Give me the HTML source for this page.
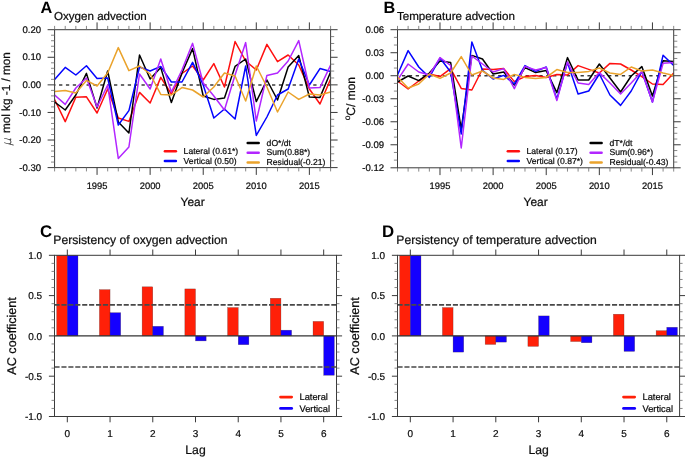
<!DOCTYPE html>
<html lang="en">
<head>
<meta charset="utf-8">
<title>Oxygen and temperature advection</title>
<style>
html,body{margin:0;padding:0;background:#fff;}
text{stroke:#0c0c0c;stroke-width:0.22px;paint-order:stroke fill;}
body{width:685px;height:459px;overflow:hidden;}
svg{display:block;}
</style>
</head>
<body>
<svg width="685" height="459" viewBox="0 0 685 459" font-family="'Liberation Sans', sans-serif" text-rendering="geometricPrecision">
<rect x="0" y="0" width="685" height="459" fill="#ffffff"/>
<clipPath id="clipA"><rect x="54.6" y="29.7" width="276" height="137.9"/></clipPath>
<g clip-path="url(#clipA)">
<line x1="54.6" y1="85" x2="330.6" y2="85" stroke="#3c3c3c" stroke-width="1.6" stroke-dasharray="3.3 3.57" stroke-dashoffset="2.42"/>
<polyline points="54.6,99.6 65.22,121.6 75.83,97.2 86.45,96.8 97.06,113 107.68,89 118.29,118 128.91,121.4 139.52,92.4 150.14,103 160.75,77.4 171.37,94 181.98,73.5 192.6,66 203.22,80 213.83,63.6 224.45,87 235.06,41.6 245.68,61 256.29,70 266.91,44.4 277.52,61.6 288.14,55 298.75,65 309.37,89 319.98,104 330.6,79" fill="none" stroke="#ff1010" stroke-width="1.5" stroke-linejoin="round"/>
<polyline points="54.6,102 65.22,110 75.83,95 86.45,73.4 97.06,108 107.68,71 118.29,122 128.91,133 139.52,55 150.14,79 160.75,67.6 171.37,102.6 181.98,73 192.6,48.6 203.22,96 213.83,99.4 224.45,98 235.06,66.4 245.68,59 256.29,101.6 266.91,80 277.52,100 288.14,67 298.75,55.6 309.37,97 319.98,97.4 330.6,72" fill="none" stroke="#000000" stroke-width="1.5" stroke-linejoin="round"/>
<polyline points="54.6,79.4 65.22,67.4 75.83,75 86.45,65.8 97.06,78.4 107.68,78 118.29,125 128.91,110.6 139.52,67 150.14,71 160.75,66.4 171.37,82 181.98,82 192.6,62.4 203.22,85 213.83,118 224.45,109 235.06,119 245.68,66 256.29,135.4 266.91,117 277.52,95 288.14,89 298.75,59 309.37,85 319.98,68.6 330.6,71.4" fill="none" stroke="#0404ff" stroke-width="1.5" stroke-linejoin="round"/>
<polyline points="54.6,95 65.22,104.4 75.83,88 86.45,78 97.06,107 107.68,85 118.29,158.4 128.91,147 139.52,74 150.14,89 160.75,59 171.37,92 181.98,70 192.6,43.4 203.22,83 213.83,96 224.45,110 235.06,75 245.68,42.6 256.29,121 266.91,75.4 277.52,73 288.14,61 298.75,40.6 309.37,88 319.98,87.6 330.6,65" fill="none" stroke="#b226ff" stroke-width="1.5" stroke-linejoin="round"/>
<polyline points="54.6,91.4 65.22,90.4 75.83,93 86.45,80.4 97.06,86 107.68,73 118.29,47.6 128.91,70.6 139.52,66 150.14,74 160.75,94.4 171.37,95 181.98,87.6 192.6,90 203.22,97 213.83,87 224.45,73 235.06,76 245.68,101 256.29,66 266.91,87 277.52,112 288.14,92 298.75,99.4 309.37,94 319.98,95 330.6,92" fill="none" stroke="#eaa32c" stroke-width="1.5" stroke-linejoin="round"/>
</g>
<rect x="54.6" y="29.7" width="276" height="137.9" fill="none" stroke="#3a3a3a" stroke-width="1"/>
<line x1="47.6" y1="29.7" x2="54.6" y2="29.7" stroke="#3a3a3a" stroke-width="1.0" />
<line x1="330.6" y1="29.7" x2="337.6" y2="29.7" stroke="#3a3a3a" stroke-width="1.0" />
<text x="41.2" y="32.9" font-size="9.6" text-anchor="end" font-weight="normal" fill="#0c0c0c" >0.20</text>
<line x1="51" y1="35.22" x2="54.6" y2="35.22" stroke="#6a6a6a" stroke-width="0.8" />
<line x1="51" y1="40.73" x2="54.6" y2="40.73" stroke="#6a6a6a" stroke-width="0.8" />
<line x1="51" y1="46.25" x2="54.6" y2="46.25" stroke="#6a6a6a" stroke-width="0.8" />
<line x1="51" y1="51.76" x2="54.6" y2="51.76" stroke="#6a6a6a" stroke-width="0.8" />
<line x1="330.6" y1="36.59" x2="334.2" y2="36.59" stroke="#6a6a6a" stroke-width="0.8" />
<line x1="330.6" y1="43.49" x2="334.2" y2="43.49" stroke="#6a6a6a" stroke-width="0.8" />
<line x1="330.6" y1="50.39" x2="334.2" y2="50.39" stroke="#6a6a6a" stroke-width="0.8" />
<line x1="47.6" y1="57.28" x2="54.6" y2="57.28" stroke="#3a3a3a" stroke-width="1.0" />
<line x1="330.6" y1="57.28" x2="337.6" y2="57.28" stroke="#3a3a3a" stroke-width="1.0" />
<text x="41.2" y="60.48" font-size="9.6" text-anchor="end" font-weight="normal" fill="#0c0c0c" >0.10</text>
<line x1="51" y1="62.8" x2="54.6" y2="62.8" stroke="#6a6a6a" stroke-width="0.8" />
<line x1="51" y1="68.31" x2="54.6" y2="68.31" stroke="#6a6a6a" stroke-width="0.8" />
<line x1="51" y1="73.83" x2="54.6" y2="73.83" stroke="#6a6a6a" stroke-width="0.8" />
<line x1="51" y1="79.34" x2="54.6" y2="79.34" stroke="#6a6a6a" stroke-width="0.8" />
<line x1="330.6" y1="64.17" x2="334.2" y2="64.17" stroke="#6a6a6a" stroke-width="0.8" />
<line x1="330.6" y1="71.07" x2="334.2" y2="71.07" stroke="#6a6a6a" stroke-width="0.8" />
<line x1="330.6" y1="77.97" x2="334.2" y2="77.97" stroke="#6a6a6a" stroke-width="0.8" />
<line x1="47.6" y1="84.86" x2="54.6" y2="84.86" stroke="#3a3a3a" stroke-width="1.0" />
<line x1="330.6" y1="84.86" x2="337.6" y2="84.86" stroke="#3a3a3a" stroke-width="1.0" />
<text x="41.2" y="88.06" font-size="9.6" text-anchor="end" font-weight="normal" fill="#0c0c0c" >0.00</text>
<line x1="51" y1="90.38" x2="54.6" y2="90.38" stroke="#6a6a6a" stroke-width="0.8" />
<line x1="51" y1="95.89" x2="54.6" y2="95.89" stroke="#6a6a6a" stroke-width="0.8" />
<line x1="51" y1="101.41" x2="54.6" y2="101.41" stroke="#6a6a6a" stroke-width="0.8" />
<line x1="51" y1="106.92" x2="54.6" y2="106.92" stroke="#6a6a6a" stroke-width="0.8" />
<line x1="330.6" y1="91.75" x2="334.2" y2="91.75" stroke="#6a6a6a" stroke-width="0.8" />
<line x1="330.6" y1="98.65" x2="334.2" y2="98.65" stroke="#6a6a6a" stroke-width="0.8" />
<line x1="330.6" y1="105.55" x2="334.2" y2="105.55" stroke="#6a6a6a" stroke-width="0.8" />
<line x1="47.6" y1="112.44" x2="54.6" y2="112.44" stroke="#3a3a3a" stroke-width="1.0" />
<line x1="330.6" y1="112.44" x2="337.6" y2="112.44" stroke="#3a3a3a" stroke-width="1.0" />
<text x="41.2" y="115.64" font-size="9.6" text-anchor="end" font-weight="normal" fill="#0c0c0c" >-0.10</text>
<line x1="51" y1="117.96" x2="54.6" y2="117.96" stroke="#6a6a6a" stroke-width="0.8" />
<line x1="51" y1="123.47" x2="54.6" y2="123.47" stroke="#6a6a6a" stroke-width="0.8" />
<line x1="51" y1="128.99" x2="54.6" y2="128.99" stroke="#6a6a6a" stroke-width="0.8" />
<line x1="51" y1="134.5" x2="54.6" y2="134.5" stroke="#6a6a6a" stroke-width="0.8" />
<line x1="330.6" y1="119.34" x2="334.2" y2="119.34" stroke="#6a6a6a" stroke-width="0.8" />
<line x1="330.6" y1="126.23" x2="334.2" y2="126.23" stroke="#6a6a6a" stroke-width="0.8" />
<line x1="330.6" y1="133.12" x2="334.2" y2="133.12" stroke="#6a6a6a" stroke-width="0.8" />
<line x1="47.6" y1="140.02" x2="54.6" y2="140.02" stroke="#3a3a3a" stroke-width="1.0" />
<line x1="330.6" y1="140.02" x2="337.6" y2="140.02" stroke="#3a3a3a" stroke-width="1.0" />
<text x="41.2" y="143.22" font-size="9.6" text-anchor="end" font-weight="normal" fill="#0c0c0c" >-0.20</text>
<line x1="51" y1="145.54" x2="54.6" y2="145.54" stroke="#6a6a6a" stroke-width="0.8" />
<line x1="51" y1="151.05" x2="54.6" y2="151.05" stroke="#6a6a6a" stroke-width="0.8" />
<line x1="51" y1="156.57" x2="54.6" y2="156.57" stroke="#6a6a6a" stroke-width="0.8" />
<line x1="51" y1="162.08" x2="54.6" y2="162.08" stroke="#6a6a6a" stroke-width="0.8" />
<line x1="330.6" y1="146.92" x2="334.2" y2="146.92" stroke="#6a6a6a" stroke-width="0.8" />
<line x1="330.6" y1="153.81" x2="334.2" y2="153.81" stroke="#6a6a6a" stroke-width="0.8" />
<line x1="330.6" y1="160.71" x2="334.2" y2="160.71" stroke="#6a6a6a" stroke-width="0.8" />
<line x1="47.6" y1="167.6" x2="54.6" y2="167.6" stroke="#3a3a3a" stroke-width="1.0" />
<line x1="330.6" y1="167.6" x2="337.6" y2="167.6" stroke="#3a3a3a" stroke-width="1.0" />
<text x="41.2" y="170.8" font-size="9.6" text-anchor="end" font-weight="normal" fill="#0c0c0c" >-0.30</text>
<line x1="54.6" y1="25.9" x2="54.6" y2="29.7" stroke="#6a6a6a" stroke-width="0.8" />
<line x1="54.6" y1="167.6" x2="54.6" y2="171.4" stroke="#6a6a6a" stroke-width="0.8" />
<line x1="65.22" y1="25.9" x2="65.22" y2="29.7" stroke="#6a6a6a" stroke-width="0.8" />
<line x1="65.22" y1="167.6" x2="65.22" y2="171.4" stroke="#6a6a6a" stroke-width="0.8" />
<line x1="75.83" y1="25.9" x2="75.83" y2="29.7" stroke="#6a6a6a" stroke-width="0.8" />
<line x1="75.83" y1="167.6" x2="75.83" y2="171.4" stroke="#6a6a6a" stroke-width="0.8" />
<line x1="86.45" y1="25.9" x2="86.45" y2="29.7" stroke="#6a6a6a" stroke-width="0.8" />
<line x1="86.45" y1="167.6" x2="86.45" y2="171.4" stroke="#6a6a6a" stroke-width="0.8" />
<line x1="97.06" y1="22.4" x2="97.06" y2="29.7" stroke="#3a3a3a" stroke-width="1.0" />
<line x1="97.06" y1="167.6" x2="97.06" y2="174.9" stroke="#3a3a3a" stroke-width="1.0" />
<text x="97.06" y="188.9" font-size="9.4" text-anchor="middle" font-weight="normal" fill="#0c0c0c" >1995</text>
<line x1="107.68" y1="25.9" x2="107.68" y2="29.7" stroke="#6a6a6a" stroke-width="0.8" />
<line x1="107.68" y1="167.6" x2="107.68" y2="171.4" stroke="#6a6a6a" stroke-width="0.8" />
<line x1="118.29" y1="25.9" x2="118.29" y2="29.7" stroke="#6a6a6a" stroke-width="0.8" />
<line x1="118.29" y1="167.6" x2="118.29" y2="171.4" stroke="#6a6a6a" stroke-width="0.8" />
<line x1="128.91" y1="25.9" x2="128.91" y2="29.7" stroke="#6a6a6a" stroke-width="0.8" />
<line x1="128.91" y1="167.6" x2="128.91" y2="171.4" stroke="#6a6a6a" stroke-width="0.8" />
<line x1="139.52" y1="25.9" x2="139.52" y2="29.7" stroke="#6a6a6a" stroke-width="0.8" />
<line x1="139.52" y1="167.6" x2="139.52" y2="171.4" stroke="#6a6a6a" stroke-width="0.8" />
<line x1="150.14" y1="22.4" x2="150.14" y2="29.7" stroke="#3a3a3a" stroke-width="1.0" />
<line x1="150.14" y1="167.6" x2="150.14" y2="174.9" stroke="#3a3a3a" stroke-width="1.0" />
<text x="150.14" y="188.9" font-size="9.4" text-anchor="middle" font-weight="normal" fill="#0c0c0c" >2000</text>
<line x1="160.75" y1="25.9" x2="160.75" y2="29.7" stroke="#6a6a6a" stroke-width="0.8" />
<line x1="160.75" y1="167.6" x2="160.75" y2="171.4" stroke="#6a6a6a" stroke-width="0.8" />
<line x1="171.37" y1="25.9" x2="171.37" y2="29.7" stroke="#6a6a6a" stroke-width="0.8" />
<line x1="171.37" y1="167.6" x2="171.37" y2="171.4" stroke="#6a6a6a" stroke-width="0.8" />
<line x1="181.98" y1="25.9" x2="181.98" y2="29.7" stroke="#6a6a6a" stroke-width="0.8" />
<line x1="181.98" y1="167.6" x2="181.98" y2="171.4" stroke="#6a6a6a" stroke-width="0.8" />
<line x1="192.6" y1="25.9" x2="192.6" y2="29.7" stroke="#6a6a6a" stroke-width="0.8" />
<line x1="192.6" y1="167.6" x2="192.6" y2="171.4" stroke="#6a6a6a" stroke-width="0.8" />
<line x1="203.22" y1="22.4" x2="203.22" y2="29.7" stroke="#3a3a3a" stroke-width="1.0" />
<line x1="203.22" y1="167.6" x2="203.22" y2="174.9" stroke="#3a3a3a" stroke-width="1.0" />
<text x="203.22" y="188.9" font-size="9.4" text-anchor="middle" font-weight="normal" fill="#0c0c0c" >2005</text>
<line x1="213.83" y1="25.9" x2="213.83" y2="29.7" stroke="#6a6a6a" stroke-width="0.8" />
<line x1="213.83" y1="167.6" x2="213.83" y2="171.4" stroke="#6a6a6a" stroke-width="0.8" />
<line x1="224.45" y1="25.9" x2="224.45" y2="29.7" stroke="#6a6a6a" stroke-width="0.8" />
<line x1="224.45" y1="167.6" x2="224.45" y2="171.4" stroke="#6a6a6a" stroke-width="0.8" />
<line x1="235.06" y1="25.9" x2="235.06" y2="29.7" stroke="#6a6a6a" stroke-width="0.8" />
<line x1="235.06" y1="167.6" x2="235.06" y2="171.4" stroke="#6a6a6a" stroke-width="0.8" />
<line x1="245.68" y1="25.9" x2="245.68" y2="29.7" stroke="#6a6a6a" stroke-width="0.8" />
<line x1="245.68" y1="167.6" x2="245.68" y2="171.4" stroke="#6a6a6a" stroke-width="0.8" />
<line x1="256.29" y1="22.4" x2="256.29" y2="29.7" stroke="#3a3a3a" stroke-width="1.0" />
<line x1="256.29" y1="167.6" x2="256.29" y2="174.9" stroke="#3a3a3a" stroke-width="1.0" />
<text x="256.29" y="188.9" font-size="9.4" text-anchor="middle" font-weight="normal" fill="#0c0c0c" >2010</text>
<line x1="266.91" y1="25.9" x2="266.91" y2="29.7" stroke="#6a6a6a" stroke-width="0.8" />
<line x1="266.91" y1="167.6" x2="266.91" y2="171.4" stroke="#6a6a6a" stroke-width="0.8" />
<line x1="277.52" y1="25.9" x2="277.52" y2="29.7" stroke="#6a6a6a" stroke-width="0.8" />
<line x1="277.52" y1="167.6" x2="277.52" y2="171.4" stroke="#6a6a6a" stroke-width="0.8" />
<line x1="288.14" y1="25.9" x2="288.14" y2="29.7" stroke="#6a6a6a" stroke-width="0.8" />
<line x1="288.14" y1="167.6" x2="288.14" y2="171.4" stroke="#6a6a6a" stroke-width="0.8" />
<line x1="298.75" y1="25.9" x2="298.75" y2="29.7" stroke="#6a6a6a" stroke-width="0.8" />
<line x1="298.75" y1="167.6" x2="298.75" y2="171.4" stroke="#6a6a6a" stroke-width="0.8" />
<line x1="309.37" y1="22.4" x2="309.37" y2="29.7" stroke="#3a3a3a" stroke-width="1.0" />
<line x1="309.37" y1="167.6" x2="309.37" y2="174.9" stroke="#3a3a3a" stroke-width="1.0" />
<text x="309.37" y="188.9" font-size="9.4" text-anchor="middle" font-weight="normal" fill="#0c0c0c" >2015</text>
<line x1="319.98" y1="25.9" x2="319.98" y2="29.7" stroke="#6a6a6a" stroke-width="0.8" />
<line x1="319.98" y1="167.6" x2="319.98" y2="171.4" stroke="#6a6a6a" stroke-width="0.8" />
<line x1="330.6" y1="25.9" x2="330.6" y2="29.7" stroke="#6a6a6a" stroke-width="0.8" />
<line x1="330.6" y1="167.6" x2="330.6" y2="171.4" stroke="#6a6a6a" stroke-width="0.8" />
<text x="40.5" y="13.1" font-size="16.3" text-anchor="start" font-weight="bold" fill="#000" style="stroke:none">A</text>
<text x="54" y="19.8" font-size="11.6" text-anchor="start" font-weight="normal" fill="#0c0c0c" >Oxygen advection</text>
<text x="192.6" y="205.6" font-size="11.9" text-anchor="middle" font-weight="normal" fill="#0c0c0c" >Year</text>
<text transform="translate(10.9,146.1) rotate(-90)" font-size="12" fill="#0c0c0c"><tspan font-style="italic" font-weight="200" font-family="'DejaVu Sans Light', 'DejaVu Sans', 'Liberation Sans', sans-serif" font-size="12.2" style="stroke-width:0.12px">μ</tspan></text><text transform="translate(10.2,133.1) rotate(-90)" font-size="11.75" fill="#0c0c0c">mol kg -1 / mon</text>
<line x1="164.9" y1="151.3" x2="175.9" y2="151.3" stroke="#ff1010" stroke-width="2.5" stroke-linecap="round"/>
<text x="183.6" y="154" font-size="8.62" text-anchor="start" font-weight="normal" fill="#0c0c0c" >Lateral (0.61*)</text>
<line x1="164.9" y1="160.9" x2="175.9" y2="160.9" stroke="#0404ff" stroke-width="2.5" stroke-linecap="round"/>
<text x="183.6" y="163.6" font-size="8.62" text-anchor="start" font-weight="normal" fill="#0c0c0c" >Vertical (0.50)</text>
<line x1="247.7" y1="143.1" x2="258.7" y2="143.1" stroke="#000000" stroke-width="2.5" stroke-linecap="round"/>
<text x="266.6" y="145.8" font-size="8.62" text-anchor="start" font-weight="normal" fill="#0c0c0c" >dO*/dt</text>
<line x1="247.7" y1="152.7" x2="258.7" y2="152.7" stroke="#b226ff" stroke-width="2.5" stroke-linecap="round"/>
<text x="266.6" y="155.4" font-size="8.62" text-anchor="start" font-weight="normal" fill="#0c0c0c" >Sum(0.88*)</text>
<line x1="247.7" y1="162.4" x2="258.7" y2="162.4" stroke="#eaa32c" stroke-width="2.5" stroke-linecap="round"/>
<text x="266.6" y="165.1" font-size="8.62" text-anchor="start" font-weight="normal" fill="#0c0c0c" >Residual(-0.21)</text>
<clipPath id="clipB"><rect x="397.5" y="29.7" width="276.2" height="138.1"/></clipPath>
<g clip-path="url(#clipB)">
<line x1="397.5" y1="75.7" x2="673.7" y2="75.7" stroke="#3c3c3c" stroke-width="1.6" stroke-dasharray="3.3 3.57" stroke-dashoffset="2.42"/>
<polyline points="397.5,81 408.12,89 418.75,81 429.37,74 439.99,76.6 450.62,68.6 461.24,88.4 471.86,90 482.48,69 493.11,69.4 503.73,68.6 514.35,81.6 524.98,76.6 535.6,75.4 546.22,77.4 556.85,74.6 567.47,75 578.09,65.6 588.72,69.4 599.34,73 609.96,63.4 620.58,64 631.21,70 641.83,76.6 652.45,84 663.08,84.4 673.7,73" fill="none" stroke="#ff1010" stroke-width="1.5" stroke-linejoin="round"/>
<polyline points="397.5,82 408.12,76 418.75,80.6 429.37,73 439.99,61 450.62,62.4 461.24,129 471.86,55.4 482.48,59 493.11,74 503.73,72 514.35,85 524.98,67.6 535.6,72.6 546.22,70.6 556.85,92.6 567.47,57.6 578.09,80 588.72,80 599.34,64 609.96,78 620.58,92 631.21,76 641.83,66.6 652.45,96 663.08,60.8 673.7,61.5" fill="none" stroke="#000000" stroke-width="1.5" stroke-linejoin="round"/>
<polyline points="397.5,75 408.12,50.6 418.75,67 429.37,77.4 439.99,58 450.62,72 461.24,134 471.86,42 482.48,70.3 493.11,79 503.73,75.4 514.35,84 524.98,65.6 535.6,71.4 546.22,67 556.85,99 567.47,62.6 578.09,94 588.72,91 599.34,74 609.96,95 620.58,105.4 631.21,91 641.83,71.4 652.45,102 663.08,55.2 673.7,65.4" fill="none" stroke="#0404ff" stroke-width="1.5" stroke-linejoin="round"/>
<polyline points="397.5,80 408.12,64 418.75,72 429.37,75 439.99,57.6 450.62,65.5 461.24,148 471.86,56 482.48,64 493.11,72 503.73,68.6 514.35,88.6 524.98,66.4 535.6,70 546.22,67.6 556.85,100.6 567.47,62 578.09,83 588.72,84.4 599.34,72.6 609.96,83 620.58,94 631.21,83 641.83,71.4 652.45,102 663.08,63.2 673.7,62.4" fill="none" stroke="#b226ff" stroke-width="1.5" stroke-linejoin="round"/>
<polyline points="397.5,77 408.12,88 418.75,84 429.37,74 439.99,78.4 450.62,73 461.24,56.6 471.86,75 482.48,71 493.11,78 503.73,79.4 514.35,74.4 524.98,77.4 535.6,78.6 546.22,77.4 556.85,69.6 567.47,72.4 578.09,72.6 588.72,71.4 599.34,68 609.96,73 620.58,74.4 631.21,67 641.83,71 652.45,70 663.08,73 673.7,75.4" fill="none" stroke="#eaa32c" stroke-width="1.5" stroke-linejoin="round"/>
</g>
<rect x="397.5" y="29.7" width="276.2" height="138.1" fill="none" stroke="#3a3a3a" stroke-width="1"/>
<line x1="390.5" y1="29.7" x2="397.5" y2="29.7" stroke="#3a3a3a" stroke-width="1.0" />
<line x1="673.7" y1="29.7" x2="680.7" y2="29.7" stroke="#3a3a3a" stroke-width="1.0" />
<text x="384.1" y="32.9" font-size="9.6" text-anchor="end" font-weight="normal" fill="#0c0c0c" >0.06</text>
<line x1="393.9" y1="37.37" x2="397.5" y2="37.37" stroke="#6a6a6a" stroke-width="0.8" />
<line x1="393.9" y1="45.04" x2="397.5" y2="45.04" stroke="#6a6a6a" stroke-width="0.8" />
<line x1="673.7" y1="35.45" x2="677.3" y2="35.45" stroke="#6a6a6a" stroke-width="0.8" />
<line x1="673.7" y1="41.21" x2="677.3" y2="41.21" stroke="#6a6a6a" stroke-width="0.8" />
<line x1="673.7" y1="46.96" x2="677.3" y2="46.96" stroke="#6a6a6a" stroke-width="0.8" />
<line x1="390.5" y1="52.72" x2="397.5" y2="52.72" stroke="#3a3a3a" stroke-width="1.0" />
<line x1="673.7" y1="52.72" x2="680.7" y2="52.72" stroke="#3a3a3a" stroke-width="1.0" />
<text x="384.1" y="55.92" font-size="9.6" text-anchor="end" font-weight="normal" fill="#0c0c0c" >0.03</text>
<line x1="393.9" y1="60.39" x2="397.5" y2="60.39" stroke="#6a6a6a" stroke-width="0.8" />
<line x1="393.9" y1="68.06" x2="397.5" y2="68.06" stroke="#6a6a6a" stroke-width="0.8" />
<line x1="673.7" y1="58.47" x2="677.3" y2="58.47" stroke="#6a6a6a" stroke-width="0.8" />
<line x1="673.7" y1="64.23" x2="677.3" y2="64.23" stroke="#6a6a6a" stroke-width="0.8" />
<line x1="673.7" y1="69.98" x2="677.3" y2="69.98" stroke="#6a6a6a" stroke-width="0.8" />
<line x1="390.5" y1="75.73" x2="397.5" y2="75.73" stroke="#3a3a3a" stroke-width="1.0" />
<line x1="673.7" y1="75.73" x2="680.7" y2="75.73" stroke="#3a3a3a" stroke-width="1.0" />
<text x="384.1" y="78.93" font-size="9.6" text-anchor="end" font-weight="normal" fill="#0c0c0c" >0.00</text>
<line x1="393.9" y1="83.41" x2="397.5" y2="83.41" stroke="#6a6a6a" stroke-width="0.8" />
<line x1="393.9" y1="91.08" x2="397.5" y2="91.08" stroke="#6a6a6a" stroke-width="0.8" />
<line x1="673.7" y1="81.49" x2="677.3" y2="81.49" stroke="#6a6a6a" stroke-width="0.8" />
<line x1="673.7" y1="87.24" x2="677.3" y2="87.24" stroke="#6a6a6a" stroke-width="0.8" />
<line x1="673.7" y1="93" x2="677.3" y2="93" stroke="#6a6a6a" stroke-width="0.8" />
<line x1="390.5" y1="98.75" x2="397.5" y2="98.75" stroke="#3a3a3a" stroke-width="1.0" />
<line x1="673.7" y1="98.75" x2="680.7" y2="98.75" stroke="#3a3a3a" stroke-width="1.0" />
<text x="384.1" y="101.95" font-size="9.6" text-anchor="end" font-weight="normal" fill="#0c0c0c" >-0.03</text>
<line x1="393.9" y1="106.42" x2="397.5" y2="106.42" stroke="#6a6a6a" stroke-width="0.8" />
<line x1="393.9" y1="114.09" x2="397.5" y2="114.09" stroke="#6a6a6a" stroke-width="0.8" />
<line x1="673.7" y1="104.5" x2="677.3" y2="104.5" stroke="#6a6a6a" stroke-width="0.8" />
<line x1="673.7" y1="110.26" x2="677.3" y2="110.26" stroke="#6a6a6a" stroke-width="0.8" />
<line x1="673.7" y1="116.01" x2="677.3" y2="116.01" stroke="#6a6a6a" stroke-width="0.8" />
<line x1="390.5" y1="121.77" x2="397.5" y2="121.77" stroke="#3a3a3a" stroke-width="1.0" />
<line x1="673.7" y1="121.77" x2="680.7" y2="121.77" stroke="#3a3a3a" stroke-width="1.0" />
<text x="384.1" y="124.97" font-size="9.6" text-anchor="end" font-weight="normal" fill="#0c0c0c" >-0.06</text>
<line x1="393.9" y1="129.44" x2="397.5" y2="129.44" stroke="#6a6a6a" stroke-width="0.8" />
<line x1="393.9" y1="137.11" x2="397.5" y2="137.11" stroke="#6a6a6a" stroke-width="0.8" />
<line x1="673.7" y1="127.52" x2="677.3" y2="127.52" stroke="#6a6a6a" stroke-width="0.8" />
<line x1="673.7" y1="133.28" x2="677.3" y2="133.28" stroke="#6a6a6a" stroke-width="0.8" />
<line x1="673.7" y1="139.03" x2="677.3" y2="139.03" stroke="#6a6a6a" stroke-width="0.8" />
<line x1="390.5" y1="144.78" x2="397.5" y2="144.78" stroke="#3a3a3a" stroke-width="1.0" />
<line x1="673.7" y1="144.78" x2="680.7" y2="144.78" stroke="#3a3a3a" stroke-width="1.0" />
<text x="384.1" y="147.98" font-size="9.6" text-anchor="end" font-weight="normal" fill="#0c0c0c" >-0.09</text>
<line x1="393.9" y1="152.46" x2="397.5" y2="152.46" stroke="#6a6a6a" stroke-width="0.8" />
<line x1="393.9" y1="160.13" x2="397.5" y2="160.13" stroke="#6a6a6a" stroke-width="0.8" />
<line x1="673.7" y1="150.54" x2="677.3" y2="150.54" stroke="#6a6a6a" stroke-width="0.8" />
<line x1="673.7" y1="156.29" x2="677.3" y2="156.29" stroke="#6a6a6a" stroke-width="0.8" />
<line x1="673.7" y1="162.05" x2="677.3" y2="162.05" stroke="#6a6a6a" stroke-width="0.8" />
<line x1="390.5" y1="167.8" x2="397.5" y2="167.8" stroke="#3a3a3a" stroke-width="1.0" />
<line x1="673.7" y1="167.8" x2="680.7" y2="167.8" stroke="#3a3a3a" stroke-width="1.0" />
<text x="384.1" y="171" font-size="9.6" text-anchor="end" font-weight="normal" fill="#0c0c0c" >-0.12</text>
<line x1="397.5" y1="25.9" x2="397.5" y2="29.7" stroke="#6a6a6a" stroke-width="0.8" />
<line x1="397.5" y1="167.8" x2="397.5" y2="171.6" stroke="#6a6a6a" stroke-width="0.8" />
<line x1="408.12" y1="25.9" x2="408.12" y2="29.7" stroke="#6a6a6a" stroke-width="0.8" />
<line x1="408.12" y1="167.8" x2="408.12" y2="171.6" stroke="#6a6a6a" stroke-width="0.8" />
<line x1="418.75" y1="25.9" x2="418.75" y2="29.7" stroke="#6a6a6a" stroke-width="0.8" />
<line x1="418.75" y1="167.8" x2="418.75" y2="171.6" stroke="#6a6a6a" stroke-width="0.8" />
<line x1="429.37" y1="25.9" x2="429.37" y2="29.7" stroke="#6a6a6a" stroke-width="0.8" />
<line x1="429.37" y1="167.8" x2="429.37" y2="171.6" stroke="#6a6a6a" stroke-width="0.8" />
<line x1="439.99" y1="22.4" x2="439.99" y2="29.7" stroke="#3a3a3a" stroke-width="1.0" />
<line x1="439.99" y1="167.8" x2="439.99" y2="175.1" stroke="#3a3a3a" stroke-width="1.0" />
<text x="439.99" y="189.1" font-size="9.4" text-anchor="middle" font-weight="normal" fill="#0c0c0c" >1995</text>
<line x1="450.62" y1="25.9" x2="450.62" y2="29.7" stroke="#6a6a6a" stroke-width="0.8" />
<line x1="450.62" y1="167.8" x2="450.62" y2="171.6" stroke="#6a6a6a" stroke-width="0.8" />
<line x1="461.24" y1="25.9" x2="461.24" y2="29.7" stroke="#6a6a6a" stroke-width="0.8" />
<line x1="461.24" y1="167.8" x2="461.24" y2="171.6" stroke="#6a6a6a" stroke-width="0.8" />
<line x1="471.86" y1="25.9" x2="471.86" y2="29.7" stroke="#6a6a6a" stroke-width="0.8" />
<line x1="471.86" y1="167.8" x2="471.86" y2="171.6" stroke="#6a6a6a" stroke-width="0.8" />
<line x1="482.48" y1="25.9" x2="482.48" y2="29.7" stroke="#6a6a6a" stroke-width="0.8" />
<line x1="482.48" y1="167.8" x2="482.48" y2="171.6" stroke="#6a6a6a" stroke-width="0.8" />
<line x1="493.11" y1="22.4" x2="493.11" y2="29.7" stroke="#3a3a3a" stroke-width="1.0" />
<line x1="493.11" y1="167.8" x2="493.11" y2="175.1" stroke="#3a3a3a" stroke-width="1.0" />
<text x="493.11" y="189.1" font-size="9.4" text-anchor="middle" font-weight="normal" fill="#0c0c0c" >2000</text>
<line x1="503.73" y1="25.9" x2="503.73" y2="29.7" stroke="#6a6a6a" stroke-width="0.8" />
<line x1="503.73" y1="167.8" x2="503.73" y2="171.6" stroke="#6a6a6a" stroke-width="0.8" />
<line x1="514.35" y1="25.9" x2="514.35" y2="29.7" stroke="#6a6a6a" stroke-width="0.8" />
<line x1="514.35" y1="167.8" x2="514.35" y2="171.6" stroke="#6a6a6a" stroke-width="0.8" />
<line x1="524.98" y1="25.9" x2="524.98" y2="29.7" stroke="#6a6a6a" stroke-width="0.8" />
<line x1="524.98" y1="167.8" x2="524.98" y2="171.6" stroke="#6a6a6a" stroke-width="0.8" />
<line x1="535.6" y1="25.9" x2="535.6" y2="29.7" stroke="#6a6a6a" stroke-width="0.8" />
<line x1="535.6" y1="167.8" x2="535.6" y2="171.6" stroke="#6a6a6a" stroke-width="0.8" />
<line x1="546.22" y1="22.4" x2="546.22" y2="29.7" stroke="#3a3a3a" stroke-width="1.0" />
<line x1="546.22" y1="167.8" x2="546.22" y2="175.1" stroke="#3a3a3a" stroke-width="1.0" />
<text x="546.22" y="189.1" font-size="9.4" text-anchor="middle" font-weight="normal" fill="#0c0c0c" >2005</text>
<line x1="556.85" y1="25.9" x2="556.85" y2="29.7" stroke="#6a6a6a" stroke-width="0.8" />
<line x1="556.85" y1="167.8" x2="556.85" y2="171.6" stroke="#6a6a6a" stroke-width="0.8" />
<line x1="567.47" y1="25.9" x2="567.47" y2="29.7" stroke="#6a6a6a" stroke-width="0.8" />
<line x1="567.47" y1="167.8" x2="567.47" y2="171.6" stroke="#6a6a6a" stroke-width="0.8" />
<line x1="578.09" y1="25.9" x2="578.09" y2="29.7" stroke="#6a6a6a" stroke-width="0.8" />
<line x1="578.09" y1="167.8" x2="578.09" y2="171.6" stroke="#6a6a6a" stroke-width="0.8" />
<line x1="588.72" y1="25.9" x2="588.72" y2="29.7" stroke="#6a6a6a" stroke-width="0.8" />
<line x1="588.72" y1="167.8" x2="588.72" y2="171.6" stroke="#6a6a6a" stroke-width="0.8" />
<line x1="599.34" y1="22.4" x2="599.34" y2="29.7" stroke="#3a3a3a" stroke-width="1.0" />
<line x1="599.34" y1="167.8" x2="599.34" y2="175.1" stroke="#3a3a3a" stroke-width="1.0" />
<text x="599.34" y="189.1" font-size="9.4" text-anchor="middle" font-weight="normal" fill="#0c0c0c" >2010</text>
<line x1="609.96" y1="25.9" x2="609.96" y2="29.7" stroke="#6a6a6a" stroke-width="0.8" />
<line x1="609.96" y1="167.8" x2="609.96" y2="171.6" stroke="#6a6a6a" stroke-width="0.8" />
<line x1="620.58" y1="25.9" x2="620.58" y2="29.7" stroke="#6a6a6a" stroke-width="0.8" />
<line x1="620.58" y1="167.8" x2="620.58" y2="171.6" stroke="#6a6a6a" stroke-width="0.8" />
<line x1="631.21" y1="25.9" x2="631.21" y2="29.7" stroke="#6a6a6a" stroke-width="0.8" />
<line x1="631.21" y1="167.8" x2="631.21" y2="171.6" stroke="#6a6a6a" stroke-width="0.8" />
<line x1="641.83" y1="25.9" x2="641.83" y2="29.7" stroke="#6a6a6a" stroke-width="0.8" />
<line x1="641.83" y1="167.8" x2="641.83" y2="171.6" stroke="#6a6a6a" stroke-width="0.8" />
<line x1="652.45" y1="22.4" x2="652.45" y2="29.7" stroke="#3a3a3a" stroke-width="1.0" />
<line x1="652.45" y1="167.8" x2="652.45" y2="175.1" stroke="#3a3a3a" stroke-width="1.0" />
<text x="652.45" y="189.1" font-size="9.4" text-anchor="middle" font-weight="normal" fill="#0c0c0c" >2015</text>
<line x1="663.08" y1="25.9" x2="663.08" y2="29.7" stroke="#6a6a6a" stroke-width="0.8" />
<line x1="663.08" y1="167.8" x2="663.08" y2="171.6" stroke="#6a6a6a" stroke-width="0.8" />
<line x1="673.7" y1="25.9" x2="673.7" y2="29.7" stroke="#6a6a6a" stroke-width="0.8" />
<line x1="673.7" y1="167.8" x2="673.7" y2="171.6" stroke="#6a6a6a" stroke-width="0.8" />
<text x="383.4" y="13.1" font-size="16.3" text-anchor="start" font-weight="bold" fill="#000" style="stroke:none">B</text>
<text x="396.9" y="19.8" font-size="11.6" text-anchor="start" font-weight="normal" fill="#0c0c0c" >Temperature advection</text>
<text x="535.6" y="205.6" font-size="11.9" text-anchor="middle" font-weight="normal" fill="#0c0c0c" >Year</text>
<text transform="translate(354.6,98.7) rotate(-90)" font-size="12" text-anchor="middle" fill="#0c0c0c"><tspan font-size="8.4" dy="-4.6">o</tspan><tspan dy="4.6">C/ mon</tspan></text>
<line x1="507.8" y1="151.3" x2="518.8" y2="151.3" stroke="#ff1010" stroke-width="2.5" stroke-linecap="round"/>
<text x="526.5" y="154" font-size="8.62" text-anchor="start" font-weight="normal" fill="#0c0c0c" >Lateral (0.17)</text>
<line x1="507.8" y1="160.9" x2="518.8" y2="160.9" stroke="#0404ff" stroke-width="2.5" stroke-linecap="round"/>
<text x="526.5" y="163.6" font-size="8.62" text-anchor="start" font-weight="normal" fill="#0c0c0c" >Vertical (0.87*)</text>
<line x1="590.6" y1="143.1" x2="601.6" y2="143.1" stroke="#000000" stroke-width="2.5" stroke-linecap="round"/>
<text x="609.5" y="145.8" font-size="8.62" text-anchor="start" font-weight="normal" fill="#0c0c0c" >dT*/dt</text>
<line x1="590.6" y1="152.7" x2="601.6" y2="152.7" stroke="#b226ff" stroke-width="2.5" stroke-linecap="round"/>
<text x="609.5" y="155.4" font-size="8.62" text-anchor="start" font-weight="normal" fill="#0c0c0c" >Sum(0.96*)</text>
<line x1="590.6" y1="162.4" x2="601.6" y2="162.4" stroke="#eaa32c" stroke-width="2.5" stroke-linecap="round"/>
<text x="609.5" y="165.1" font-size="8.62" text-anchor="start" font-weight="normal" fill="#0c0c0c" >Residual(-0.43)</text>
<rect x="56.67" y="255.3" width="10.65" height="80.6" fill="#ff2008" stroke="#402020" stroke-opacity="0.55" stroke-width="0.45"/>
<rect x="67.32" y="255.3" width="10.65" height="80.6" fill="#1400ff" stroke="#402020" stroke-opacity="0.55" stroke-width="0.45"/>
<rect x="99.4" y="289.64" width="10.65" height="46.26" fill="#ff2008" stroke="#402020" stroke-opacity="0.55" stroke-width="0.45"/>
<rect x="110.05" y="312.69" width="10.65" height="23.21" fill="#1400ff" stroke="#402020" stroke-opacity="0.55" stroke-width="0.45"/>
<rect x="142.12" y="286.81" width="10.65" height="49.09" fill="#ff2008" stroke="#402020" stroke-opacity="0.55" stroke-width="0.45"/>
<rect x="152.77" y="326.31" width="10.65" height="9.59" fill="#1400ff" stroke="#402020" stroke-opacity="0.55" stroke-width="0.45"/>
<rect x="184.85" y="288.91" width="10.65" height="46.99" fill="#ff2008" stroke="#402020" stroke-opacity="0.55" stroke-width="0.45"/>
<rect x="195.5" y="335.9" width="10.65" height="5" fill="#1400ff" stroke="#402020" stroke-opacity="0.55" stroke-width="0.45"/>
<rect x="227.58" y="307.53" width="10.65" height="28.37" fill="#ff2008" stroke="#402020" stroke-opacity="0.55" stroke-width="0.45"/>
<rect x="238.23" y="335.9" width="10.65" height="8.79" fill="#1400ff" stroke="#402020" stroke-opacity="0.55" stroke-width="0.45"/>
<rect x="270.3" y="298.26" width="10.65" height="37.64" fill="#ff2008" stroke="#402020" stroke-opacity="0.55" stroke-width="0.45"/>
<rect x="280.95" y="330.18" width="10.65" height="5.72" fill="#1400ff" stroke="#402020" stroke-opacity="0.55" stroke-width="0.45"/>
<rect x="313.03" y="321.39" width="10.65" height="14.51" fill="#ff2008" stroke="#402020" stroke-opacity="0.55" stroke-width="0.45"/>
<rect x="323.68" y="335.9" width="10.65" height="39.33" fill="#1400ff" stroke="#402020" stroke-opacity="0.55" stroke-width="0.45"/>
<line x1="54.5" y1="335.9" x2="336.5" y2="335.9" stroke="#333" stroke-width="1.1" />
<line x1="54.5" y1="304.9" x2="336.5" y2="304.9" stroke="#484848" stroke-width="1.7" stroke-dasharray="5.1 1.82"/>
<line x1="54.5" y1="367" x2="336.5" y2="367" stroke="#484848" stroke-width="1.7" stroke-dasharray="5.1 1.82"/>
<rect x="54.5" y="255.3" width="282" height="161.2" fill="none" stroke="#3a3a3a" stroke-width="1"/>
<line x1="48.9" y1="255.3" x2="54.5" y2="255.3" stroke="#3a3a3a" stroke-width="1.0" />
<line x1="336.5" y1="255.3" x2="342.1" y2="255.3" stroke="#3a3a3a" stroke-width="1.0" />
<text x="42.2" y="258.9" font-size="10.0" text-anchor="end" font-weight="normal" fill="#0c0c0c" >1.0</text>
<line x1="51.5" y1="263.36" x2="54.5" y2="263.36" stroke="#6a6a6a" stroke-width="0.8" />
<line x1="336.5" y1="263.36" x2="339.5" y2="263.36" stroke="#6a6a6a" stroke-width="0.8" />
<line x1="51.5" y1="271.42" x2="54.5" y2="271.42" stroke="#6a6a6a" stroke-width="0.8" />
<line x1="336.5" y1="271.42" x2="339.5" y2="271.42" stroke="#6a6a6a" stroke-width="0.8" />
<line x1="51.5" y1="279.48" x2="54.5" y2="279.48" stroke="#6a6a6a" stroke-width="0.8" />
<line x1="336.5" y1="279.48" x2="339.5" y2="279.48" stroke="#6a6a6a" stroke-width="0.8" />
<line x1="51.5" y1="287.54" x2="54.5" y2="287.54" stroke="#6a6a6a" stroke-width="0.8" />
<line x1="336.5" y1="287.54" x2="339.5" y2="287.54" stroke="#6a6a6a" stroke-width="0.8" />
<line x1="48.9" y1="295.6" x2="54.5" y2="295.6" stroke="#3a3a3a" stroke-width="1.0" />
<line x1="336.5" y1="295.6" x2="342.1" y2="295.6" stroke="#3a3a3a" stroke-width="1.0" />
<text x="42.2" y="299.2" font-size="10.0" text-anchor="end" font-weight="normal" fill="#0c0c0c" >0.5</text>
<line x1="51.5" y1="303.66" x2="54.5" y2="303.66" stroke="#6a6a6a" stroke-width="0.8" />
<line x1="336.5" y1="303.66" x2="339.5" y2="303.66" stroke="#6a6a6a" stroke-width="0.8" />
<line x1="51.5" y1="311.72" x2="54.5" y2="311.72" stroke="#6a6a6a" stroke-width="0.8" />
<line x1="336.5" y1="311.72" x2="339.5" y2="311.72" stroke="#6a6a6a" stroke-width="0.8" />
<line x1="51.5" y1="319.78" x2="54.5" y2="319.78" stroke="#6a6a6a" stroke-width="0.8" />
<line x1="336.5" y1="319.78" x2="339.5" y2="319.78" stroke="#6a6a6a" stroke-width="0.8" />
<line x1="51.5" y1="327.84" x2="54.5" y2="327.84" stroke="#6a6a6a" stroke-width="0.8" />
<line x1="336.5" y1="327.84" x2="339.5" y2="327.84" stroke="#6a6a6a" stroke-width="0.8" />
<line x1="48.9" y1="335.9" x2="54.5" y2="335.9" stroke="#3a3a3a" stroke-width="1.0" />
<line x1="336.5" y1="335.9" x2="342.1" y2="335.9" stroke="#3a3a3a" stroke-width="1.0" />
<text x="42.2" y="339.5" font-size="10.0" text-anchor="end" font-weight="normal" fill="#0c0c0c" >0.0</text>
<line x1="51.5" y1="343.96" x2="54.5" y2="343.96" stroke="#6a6a6a" stroke-width="0.8" />
<line x1="336.5" y1="343.96" x2="339.5" y2="343.96" stroke="#6a6a6a" stroke-width="0.8" />
<line x1="51.5" y1="352.02" x2="54.5" y2="352.02" stroke="#6a6a6a" stroke-width="0.8" />
<line x1="336.5" y1="352.02" x2="339.5" y2="352.02" stroke="#6a6a6a" stroke-width="0.8" />
<line x1="51.5" y1="360.08" x2="54.5" y2="360.08" stroke="#6a6a6a" stroke-width="0.8" />
<line x1="336.5" y1="360.08" x2="339.5" y2="360.08" stroke="#6a6a6a" stroke-width="0.8" />
<line x1="51.5" y1="368.14" x2="54.5" y2="368.14" stroke="#6a6a6a" stroke-width="0.8" />
<line x1="336.5" y1="368.14" x2="339.5" y2="368.14" stroke="#6a6a6a" stroke-width="0.8" />
<line x1="48.9" y1="376.2" x2="54.5" y2="376.2" stroke="#3a3a3a" stroke-width="1.0" />
<line x1="336.5" y1="376.2" x2="342.1" y2="376.2" stroke="#3a3a3a" stroke-width="1.0" />
<text x="42.2" y="379.8" font-size="10.0" text-anchor="end" font-weight="normal" fill="#0c0c0c" >-0.5</text>
<line x1="51.5" y1="384.26" x2="54.5" y2="384.26" stroke="#6a6a6a" stroke-width="0.8" />
<line x1="336.5" y1="384.26" x2="339.5" y2="384.26" stroke="#6a6a6a" stroke-width="0.8" />
<line x1="51.5" y1="392.32" x2="54.5" y2="392.32" stroke="#6a6a6a" stroke-width="0.8" />
<line x1="336.5" y1="392.32" x2="339.5" y2="392.32" stroke="#6a6a6a" stroke-width="0.8" />
<line x1="51.5" y1="400.38" x2="54.5" y2="400.38" stroke="#6a6a6a" stroke-width="0.8" />
<line x1="336.5" y1="400.38" x2="339.5" y2="400.38" stroke="#6a6a6a" stroke-width="0.8" />
<line x1="51.5" y1="408.44" x2="54.5" y2="408.44" stroke="#6a6a6a" stroke-width="0.8" />
<line x1="336.5" y1="408.44" x2="339.5" y2="408.44" stroke="#6a6a6a" stroke-width="0.8" />
<line x1="48.9" y1="416.5" x2="54.5" y2="416.5" stroke="#3a3a3a" stroke-width="1.0" />
<line x1="336.5" y1="416.5" x2="342.1" y2="416.5" stroke="#3a3a3a" stroke-width="1.0" />
<text x="42.2" y="420.1" font-size="10.0" text-anchor="end" font-weight="normal" fill="#0c0c0c" >-1.0</text>
<line x1="67.32" y1="249.5" x2="67.32" y2="255.3" stroke="#3a3a3a" stroke-width="1.0" />
<line x1="67.32" y1="416.5" x2="67.32" y2="422.3" stroke="#3a3a3a" stroke-width="1.0" />
<text x="67.32" y="437" font-size="10.0" text-anchor="middle" font-weight="normal" fill="#0c0c0c" >0</text>
<line x1="110.05" y1="249.5" x2="110.05" y2="255.3" stroke="#3a3a3a" stroke-width="1.0" />
<line x1="110.05" y1="416.5" x2="110.05" y2="422.3" stroke="#3a3a3a" stroke-width="1.0" />
<text x="110.05" y="437" font-size="10.0" text-anchor="middle" font-weight="normal" fill="#0c0c0c" >1</text>
<line x1="152.77" y1="249.5" x2="152.77" y2="255.3" stroke="#3a3a3a" stroke-width="1.0" />
<line x1="152.77" y1="416.5" x2="152.77" y2="422.3" stroke="#3a3a3a" stroke-width="1.0" />
<text x="152.77" y="437" font-size="10.0" text-anchor="middle" font-weight="normal" fill="#0c0c0c" >2</text>
<line x1="195.5" y1="249.5" x2="195.5" y2="255.3" stroke="#3a3a3a" stroke-width="1.0" />
<line x1="195.5" y1="416.5" x2="195.5" y2="422.3" stroke="#3a3a3a" stroke-width="1.0" />
<text x="195.5" y="437" font-size="10.0" text-anchor="middle" font-weight="normal" fill="#0c0c0c" >3</text>
<line x1="238.23" y1="249.5" x2="238.23" y2="255.3" stroke="#3a3a3a" stroke-width="1.0" />
<line x1="238.23" y1="416.5" x2="238.23" y2="422.3" stroke="#3a3a3a" stroke-width="1.0" />
<text x="238.23" y="437" font-size="10.0" text-anchor="middle" font-weight="normal" fill="#0c0c0c" >4</text>
<line x1="280.95" y1="249.5" x2="280.95" y2="255.3" stroke="#3a3a3a" stroke-width="1.0" />
<line x1="280.95" y1="416.5" x2="280.95" y2="422.3" stroke="#3a3a3a" stroke-width="1.0" />
<text x="280.95" y="437" font-size="10.0" text-anchor="middle" font-weight="normal" fill="#0c0c0c" >5</text>
<line x1="323.68" y1="249.5" x2="323.68" y2="255.3" stroke="#3a3a3a" stroke-width="1.0" />
<line x1="323.68" y1="416.5" x2="323.68" y2="422.3" stroke="#3a3a3a" stroke-width="1.0" />
<text x="323.68" y="437" font-size="10.0" text-anchor="middle" font-weight="normal" fill="#0c0c0c" >6</text>
<text x="39.9" y="237.1" font-size="16.8" text-anchor="start" font-weight="bold" fill="#000" style="stroke:none">C</text>
<text x="53.3" y="243.8" font-size="12.15" text-anchor="start" font-weight="normal" fill="#0c0c0c" >Persistency of oxygen advection</text>
<text x="195.5" y="454.4" font-size="12.2" text-anchor="middle" font-weight="normal" fill="#0c0c0c" >Lag</text>
<text transform="translate(16.1,335.9) rotate(-90)" font-size="12.6" text-anchor="middle" fill="#0c0c0c">AC coefficient</text>
<line x1="280.5" y1="397.1" x2="291.7" y2="397.1" stroke="#ff2008" stroke-width="2.7" stroke-linecap="round"/>
<text x="299.5" y="400.4" font-size="9.3" text-anchor="start" font-weight="normal" fill="#0c0c0c" >Lateral</text>
<line x1="280.5" y1="408.4" x2="291.7" y2="408.4" stroke="#1400ff" stroke-width="2.7" stroke-linecap="round"/>
<text x="299.5" y="411.7" font-size="9.3" text-anchor="start" font-weight="normal" fill="#0c0c0c" >Vertical</text>
<rect x="399.67" y="255.3" width="10.65" height="80.6" fill="#ff2008" stroke="#402020" stroke-opacity="0.55" stroke-width="0.45"/>
<rect x="410.32" y="255.3" width="10.65" height="80.6" fill="#1400ff" stroke="#402020" stroke-opacity="0.55" stroke-width="0.45"/>
<rect x="442.42" y="307.53" width="10.65" height="28.37" fill="#ff2008" stroke="#402020" stroke-opacity="0.55" stroke-width="0.45"/>
<rect x="453.07" y="335.9" width="10.65" height="16.2" fill="#1400ff" stroke="#402020" stroke-opacity="0.55" stroke-width="0.45"/>
<rect x="485.16" y="335.9" width="10.65" height="8.54" fill="#ff2008" stroke="#402020" stroke-opacity="0.55" stroke-width="0.45"/>
<rect x="495.81" y="335.9" width="10.65" height="6.21" fill="#1400ff" stroke="#402020" stroke-opacity="0.55" stroke-width="0.45"/>
<rect x="527.9" y="335.9" width="10.65" height="10.48" fill="#ff2008" stroke="#402020" stroke-opacity="0.55" stroke-width="0.45"/>
<rect x="538.55" y="315.91" width="10.65" height="19.99" fill="#1400ff" stroke="#402020" stroke-opacity="0.55" stroke-width="0.45"/>
<rect x="570.64" y="335.9" width="10.65" height="5.64" fill="#ff2008" stroke="#402020" stroke-opacity="0.55" stroke-width="0.45"/>
<rect x="581.29" y="335.9" width="10.65" height="6.85" fill="#1400ff" stroke="#402020" stroke-opacity="0.55" stroke-width="0.45"/>
<rect x="613.38" y="314.22" width="10.65" height="21.68" fill="#ff2008" stroke="#402020" stroke-opacity="0.55" stroke-width="0.45"/>
<rect x="624.03" y="335.9" width="10.65" height="15.48" fill="#1400ff" stroke="#402020" stroke-opacity="0.55" stroke-width="0.45"/>
<rect x="656.13" y="330.66" width="10.65" height="5.24" fill="#ff2008" stroke="#402020" stroke-opacity="0.55" stroke-width="0.45"/>
<rect x="666.78" y="327.28" width="10.65" height="8.62" fill="#1400ff" stroke="#402020" stroke-opacity="0.55" stroke-width="0.45"/>
<line x1="397.5" y1="335.9" x2="679.6" y2="335.9" stroke="#333" stroke-width="1.1" />
<line x1="397.5" y1="304.9" x2="679.6" y2="304.9" stroke="#484848" stroke-width="1.7" stroke-dasharray="5.1 1.82"/>
<line x1="397.5" y1="367" x2="679.6" y2="367" stroke="#484848" stroke-width="1.7" stroke-dasharray="5.1 1.82"/>
<rect x="397.5" y="255.3" width="282.1" height="161.2" fill="none" stroke="#3a3a3a" stroke-width="1"/>
<line x1="391.9" y1="255.3" x2="397.5" y2="255.3" stroke="#3a3a3a" stroke-width="1.0" />
<line x1="679.6" y1="255.3" x2="685.2" y2="255.3" stroke="#3a3a3a" stroke-width="1.0" />
<text x="385.2" y="258.9" font-size="10.0" text-anchor="end" font-weight="normal" fill="#0c0c0c" >1.0</text>
<line x1="394.5" y1="263.36" x2="397.5" y2="263.36" stroke="#6a6a6a" stroke-width="0.8" />
<line x1="679.6" y1="263.36" x2="682.6" y2="263.36" stroke="#6a6a6a" stroke-width="0.8" />
<line x1="394.5" y1="271.42" x2="397.5" y2="271.42" stroke="#6a6a6a" stroke-width="0.8" />
<line x1="679.6" y1="271.42" x2="682.6" y2="271.42" stroke="#6a6a6a" stroke-width="0.8" />
<line x1="394.5" y1="279.48" x2="397.5" y2="279.48" stroke="#6a6a6a" stroke-width="0.8" />
<line x1="679.6" y1="279.48" x2="682.6" y2="279.48" stroke="#6a6a6a" stroke-width="0.8" />
<line x1="394.5" y1="287.54" x2="397.5" y2="287.54" stroke="#6a6a6a" stroke-width="0.8" />
<line x1="679.6" y1="287.54" x2="682.6" y2="287.54" stroke="#6a6a6a" stroke-width="0.8" />
<line x1="391.9" y1="295.6" x2="397.5" y2="295.6" stroke="#3a3a3a" stroke-width="1.0" />
<line x1="679.6" y1="295.6" x2="685.2" y2="295.6" stroke="#3a3a3a" stroke-width="1.0" />
<text x="385.2" y="299.2" font-size="10.0" text-anchor="end" font-weight="normal" fill="#0c0c0c" >0.5</text>
<line x1="394.5" y1="303.66" x2="397.5" y2="303.66" stroke="#6a6a6a" stroke-width="0.8" />
<line x1="679.6" y1="303.66" x2="682.6" y2="303.66" stroke="#6a6a6a" stroke-width="0.8" />
<line x1="394.5" y1="311.72" x2="397.5" y2="311.72" stroke="#6a6a6a" stroke-width="0.8" />
<line x1="679.6" y1="311.72" x2="682.6" y2="311.72" stroke="#6a6a6a" stroke-width="0.8" />
<line x1="394.5" y1="319.78" x2="397.5" y2="319.78" stroke="#6a6a6a" stroke-width="0.8" />
<line x1="679.6" y1="319.78" x2="682.6" y2="319.78" stroke="#6a6a6a" stroke-width="0.8" />
<line x1="394.5" y1="327.84" x2="397.5" y2="327.84" stroke="#6a6a6a" stroke-width="0.8" />
<line x1="679.6" y1="327.84" x2="682.6" y2="327.84" stroke="#6a6a6a" stroke-width="0.8" />
<line x1="391.9" y1="335.9" x2="397.5" y2="335.9" stroke="#3a3a3a" stroke-width="1.0" />
<line x1="679.6" y1="335.9" x2="685.2" y2="335.9" stroke="#3a3a3a" stroke-width="1.0" />
<text x="385.2" y="339.5" font-size="10.0" text-anchor="end" font-weight="normal" fill="#0c0c0c" >0.0</text>
<line x1="394.5" y1="343.96" x2="397.5" y2="343.96" stroke="#6a6a6a" stroke-width="0.8" />
<line x1="679.6" y1="343.96" x2="682.6" y2="343.96" stroke="#6a6a6a" stroke-width="0.8" />
<line x1="394.5" y1="352.02" x2="397.5" y2="352.02" stroke="#6a6a6a" stroke-width="0.8" />
<line x1="679.6" y1="352.02" x2="682.6" y2="352.02" stroke="#6a6a6a" stroke-width="0.8" />
<line x1="394.5" y1="360.08" x2="397.5" y2="360.08" stroke="#6a6a6a" stroke-width="0.8" />
<line x1="679.6" y1="360.08" x2="682.6" y2="360.08" stroke="#6a6a6a" stroke-width="0.8" />
<line x1="394.5" y1="368.14" x2="397.5" y2="368.14" stroke="#6a6a6a" stroke-width="0.8" />
<line x1="679.6" y1="368.14" x2="682.6" y2="368.14" stroke="#6a6a6a" stroke-width="0.8" />
<line x1="391.9" y1="376.2" x2="397.5" y2="376.2" stroke="#3a3a3a" stroke-width="1.0" />
<line x1="679.6" y1="376.2" x2="685.2" y2="376.2" stroke="#3a3a3a" stroke-width="1.0" />
<text x="385.2" y="379.8" font-size="10.0" text-anchor="end" font-weight="normal" fill="#0c0c0c" >-0.5</text>
<line x1="394.5" y1="384.26" x2="397.5" y2="384.26" stroke="#6a6a6a" stroke-width="0.8" />
<line x1="679.6" y1="384.26" x2="682.6" y2="384.26" stroke="#6a6a6a" stroke-width="0.8" />
<line x1="394.5" y1="392.32" x2="397.5" y2="392.32" stroke="#6a6a6a" stroke-width="0.8" />
<line x1="679.6" y1="392.32" x2="682.6" y2="392.32" stroke="#6a6a6a" stroke-width="0.8" />
<line x1="394.5" y1="400.38" x2="397.5" y2="400.38" stroke="#6a6a6a" stroke-width="0.8" />
<line x1="679.6" y1="400.38" x2="682.6" y2="400.38" stroke="#6a6a6a" stroke-width="0.8" />
<line x1="394.5" y1="408.44" x2="397.5" y2="408.44" stroke="#6a6a6a" stroke-width="0.8" />
<line x1="679.6" y1="408.44" x2="682.6" y2="408.44" stroke="#6a6a6a" stroke-width="0.8" />
<line x1="391.9" y1="416.5" x2="397.5" y2="416.5" stroke="#3a3a3a" stroke-width="1.0" />
<line x1="679.6" y1="416.5" x2="685.2" y2="416.5" stroke="#3a3a3a" stroke-width="1.0" />
<text x="385.2" y="420.1" font-size="10.0" text-anchor="end" font-weight="normal" fill="#0c0c0c" >-1.0</text>
<line x1="410.32" y1="249.5" x2="410.32" y2="255.3" stroke="#3a3a3a" stroke-width="1.0" />
<line x1="410.32" y1="416.5" x2="410.32" y2="422.3" stroke="#3a3a3a" stroke-width="1.0" />
<text x="410.32" y="437" font-size="10.0" text-anchor="middle" font-weight="normal" fill="#0c0c0c" >0</text>
<line x1="453.07" y1="249.5" x2="453.07" y2="255.3" stroke="#3a3a3a" stroke-width="1.0" />
<line x1="453.07" y1="416.5" x2="453.07" y2="422.3" stroke="#3a3a3a" stroke-width="1.0" />
<text x="453.07" y="437" font-size="10.0" text-anchor="middle" font-weight="normal" fill="#0c0c0c" >1</text>
<line x1="495.81" y1="249.5" x2="495.81" y2="255.3" stroke="#3a3a3a" stroke-width="1.0" />
<line x1="495.81" y1="416.5" x2="495.81" y2="422.3" stroke="#3a3a3a" stroke-width="1.0" />
<text x="495.81" y="437" font-size="10.0" text-anchor="middle" font-weight="normal" fill="#0c0c0c" >2</text>
<line x1="538.55" y1="249.5" x2="538.55" y2="255.3" stroke="#3a3a3a" stroke-width="1.0" />
<line x1="538.55" y1="416.5" x2="538.55" y2="422.3" stroke="#3a3a3a" stroke-width="1.0" />
<text x="538.55" y="437" font-size="10.0" text-anchor="middle" font-weight="normal" fill="#0c0c0c" >3</text>
<line x1="581.29" y1="249.5" x2="581.29" y2="255.3" stroke="#3a3a3a" stroke-width="1.0" />
<line x1="581.29" y1="416.5" x2="581.29" y2="422.3" stroke="#3a3a3a" stroke-width="1.0" />
<text x="581.29" y="437" font-size="10.0" text-anchor="middle" font-weight="normal" fill="#0c0c0c" >4</text>
<line x1="624.03" y1="249.5" x2="624.03" y2="255.3" stroke="#3a3a3a" stroke-width="1.0" />
<line x1="624.03" y1="416.5" x2="624.03" y2="422.3" stroke="#3a3a3a" stroke-width="1.0" />
<text x="624.03" y="437" font-size="10.0" text-anchor="middle" font-weight="normal" fill="#0c0c0c" >5</text>
<line x1="666.78" y1="249.5" x2="666.78" y2="255.3" stroke="#3a3a3a" stroke-width="1.0" />
<line x1="666.78" y1="416.5" x2="666.78" y2="422.3" stroke="#3a3a3a" stroke-width="1.0" />
<text x="666.78" y="437" font-size="10.0" text-anchor="middle" font-weight="normal" fill="#0c0c0c" >6</text>
<text x="381.9" y="237.1" font-size="16.8" text-anchor="start" font-weight="bold" fill="#000" style="stroke:none">D</text>
<text x="396.3" y="243.8" font-size="12.15" text-anchor="start" font-weight="normal" fill="#0c0c0c" >Persistency of temperature advection</text>
<text x="538.55" y="454.4" font-size="12.2" text-anchor="middle" font-weight="normal" fill="#0c0c0c" >Lag</text>
<text transform="translate(359.1,335.9) rotate(-90)" font-size="12.6" text-anchor="middle" fill="#0c0c0c">AC coefficient</text>
<line x1="623.5" y1="397.1" x2="634.7" y2="397.1" stroke="#ff2008" stroke-width="2.7" stroke-linecap="round"/>
<text x="642.5" y="400.4" font-size="9.3" text-anchor="start" font-weight="normal" fill="#0c0c0c" >Lateral</text>
<line x1="623.5" y1="408.4" x2="634.7" y2="408.4" stroke="#1400ff" stroke-width="2.7" stroke-linecap="round"/>
<text x="642.5" y="411.7" font-size="9.3" text-anchor="start" font-weight="normal" fill="#0c0c0c" >Vertical</text>
</svg>
</body>
</html>
